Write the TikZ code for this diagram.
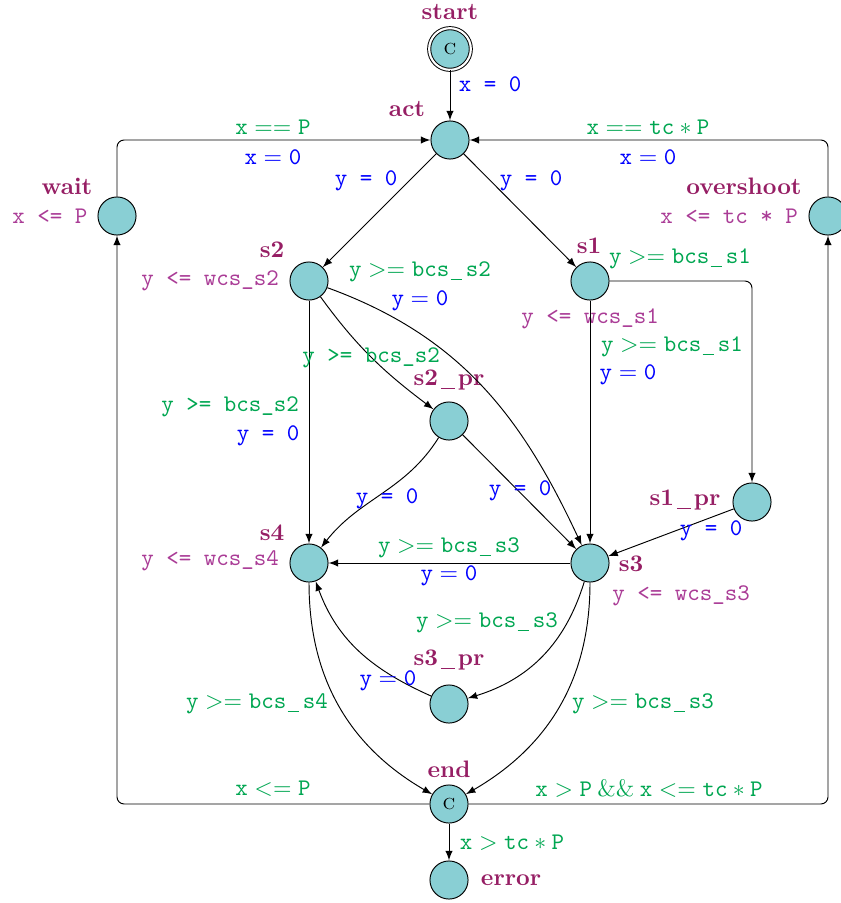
\documentclass[tikz,border=0pt]{standalone}
\usetikzlibrary{arrows}

\definecolor{locfill}{RGB}{137,207,212}
\definecolor{namecol}{RGB}{150,30,100}
\definecolor{invcol}{RGB}{170,60,150}
\definecolor{guardcol}{RGB}{0,166,81}
\definecolor{updcol}{RGB}{0,0,255}

% short underscores as the guards and names print them
\newcommand{\usc}{\mbox{\kern0.6pt\rule[-1.3pt]{4.6pt}{0.45pt}\kern1.8pt}}
\newcommand{\bus}{\mbox{\kern1.2pt\rule[-1.6pt]{5.9pt}{0.6pt}\kern1.2pt}}

\begin{document}
\begin{tikzpicture}[x=0.42pt, y=0.42pt, >=latex,
    loc/.style={circle, draw, fill=locfill, minimum size=16pt, inner sep=0pt},
    committed/.style={loc, double, double distance=0.9pt, minimum size=17.5pt},
    nm/.style={text=namecol, font=\bfseries},
    inv/.style={text=invcol, font=\ttfamily},
    guard/.style={text=guardcol},
    upd/.style={text=updcol},
    corner/.style={rounded corners=3pt}]
    \useasboundingbox (0,0) rectangle (840,-903);

    % locations
    \node[committed] (start) at (450,-49) {\small\textsc{c}};
    \node[loc] (act) at (450,-140) {};
    \node[loc] (wait) at (117,-216) {};
    \node[loc] (overshoot) at (828,-216) {};
    \node[loc] (s2) at (309,-281) {};
    \node[loc] (s1) at (590,-281) {};
    \node[loc] (s2pr) at (449,-421) {};
    \node[loc] (s1pr) at (752,-502) {};
    \node[loc] (s4) at (309,-563) {};
    \node[loc] (s3) at (590,-563) {};
    \node[loc] (s3pr) at (449,-704) {};
    \node[loc] (end) at (449,-804) {\small\textsc{c}};
    \node[loc] (error) at (449,-880) {};

    % names
    \node[nm] (n-start) at (450,-12) {start};
    \node[nm] (n-act) at (407,-109) {act};
    \node[nm] (n-wait) at (67,-186) {wait};
    \node[nm] (n-overshoot) at (744,-186) {overshoot};
    \node[nm] (n-s2) at (272,-250) {s2};
    \node[nm] (n-s1) at (589,-246) {s1};
    \node[nm] (n-s2pr) at (449,-380) {s2\bus pr};
    \node[nm] (n-s1pr) at (685,-500) {s1\bus pr};
    \node[nm] (n-s4) at (272,-533) {s4};
    \node[nm] (n-s3) at (631,-564) {s3};
    \node[nm] (n-s3pr) at (449,-660) {s3\bus pr};
    \node[nm] (n-end) at (449,-769) {end};
    \node[nm] (n-error) at (511,-880) {error};

    % invariants
    \node[inv] (i-wait) at (50,-216) {x <= P};
    \node[inv] (i-overshoot) at (729,-216) {x <= tc * P};
    \node[inv] (i-s2) at (210,-281) {y <= wcs\_s2};
    \node[inv] (i-s1) at (590,-319) {y <= wcs\_s1};
    \node[inv] (i-s4) at (210,-561) {y <= wcs\_s4};
    \node[inv] (i-s3) at (681,-596) {y <= wcs\_s3};

    % edges
    \draw[->] (start) -- (act);
    \draw[->] (act) -- (s2);
    \draw[->] (act) -- (s1);
    \draw[->, corner] (wait) |- (act);
    \draw[->, corner] (overshoot) |- (act);
    \draw[->, corner] (end) -| (wait);
    \draw[->, corner] (end) -| (overshoot);
    \draw[->] (end) -- (error);
    \draw[->] (s2) -- (s4);
    \draw[->] (s2) to[out=-54, in=143] (s2pr);
    \draw[->] (s2) to[out=-20, in=115] (s3);
    \draw[->] (s1) -- (s3);
    \draw[->, corner] (s1) -| (s1pr);
    \draw[->] (s2pr) to[out=-122, in=52] (s4);
    \draw[->] (s2pr) -- (s3);
    \draw[->] (s1pr) -- (s3);
    \draw[->] (s3) -- (s4);
    \draw[->] (s3) to[out=-107, in=17] (s3pr);
    \draw[->] (s3pr) to[out=156, in=-70] (s4);
    \draw[->] (s4) to[out=-90, in=150] (end);
    \draw[->] (s3) to[out=-90, in=30] (end);

    % guards
    \node[guard] (g-wait) at (273,-127) {$\mathtt{x == P}$};
    \node[guard] (g-overshoot) at (648,-127) {$\mathtt{x == tc * P}$};
    \node[guard, font=\ttfamily] (g-s2pr) at (371,-358) {y >= bcs\_s2};
    \node[guard] (g-s2s3) at (420,-272) {$\mathtt{y >= bcs\usc s2}$};
    \node[guard, font=\ttfamily] (g-s2s4) at (230,-407) {y >= bcs\_s2};
    \node[guard] (g-s1pr) at (680,-259) {$\mathtt{y >= bcs\usc s1}$};
    \node[guard] (g-s1s3) at (672,-347) {$\mathtt{y >= bcs\usc s1}$};
    \node[guard] (g-s3s4) at (449,-548) {$\mathtt{y >= bcs\usc s3}$};
    \node[guard] (g-s3pr) at (487,-623) {$\mathtt{y >= bcs\usc s3}$};
    \node[guard] (g-s4end) at (257,-704) {$\mathtt{y >= bcs\usc s4}$};
    \node[guard] (g-s3end) at (643,-704) {$\mathtt{y >= bcs\usc s3}$};
    \node[guard] (g-endwait) at (273,-789) {$\mathtt{x <= P}$};
    \node[guard] (g-endover) at (649,-789) {$\mathtt{x > P \mathbin{\&\&} x <= tc * P}$};
    \node[guard] (g-error) at (512,-843) {$\mathtt{x > tc * P}$};

    % updates
    \node[upd, font=\ttfamily] (u-start) at (490,-84) {x = 0};
    \node[upd] (u-wait) at (273,-157) {$\mathtt{x = 0}$};
    \node[upd] (u-overshoot) at (648,-157) {$\mathtt{x = 0}$};
    \node[upd, font=\ttfamily] (u-acts2) at (366,-181) {y = 0};
    \node[upd, font=\ttfamily] (u-acts1) at (531,-181) {y = 0};
    \node[upd] (u-s2s3) at (420,-301) {$\mathtt{y = 0}$};
    \node[upd, font=\ttfamily] (u-s2s4) at (268,-436) {y = 0};
    \node[upd] (u-s1s3) at (628,-375) {$\mathtt{y = 0}$};
    \node[upd, font=\ttfamily] (u-s2prs4) at (387,-499) {y = 0};
    \node[upd, font=\ttfamily] (u-s2prs3) at (520,-491) {y = 0};
    \node[upd, font=\ttfamily] (u-s1prs3) at (711,-531) {y = 0};
    \node[upd] (u-s3s4) at (449,-576) {$\mathtt{y = 0}$};
    \node[upd] (u-s3prs4) at (388,-681) {$\mathtt{y = 0}$};
\end{tikzpicture}
\end{document}
